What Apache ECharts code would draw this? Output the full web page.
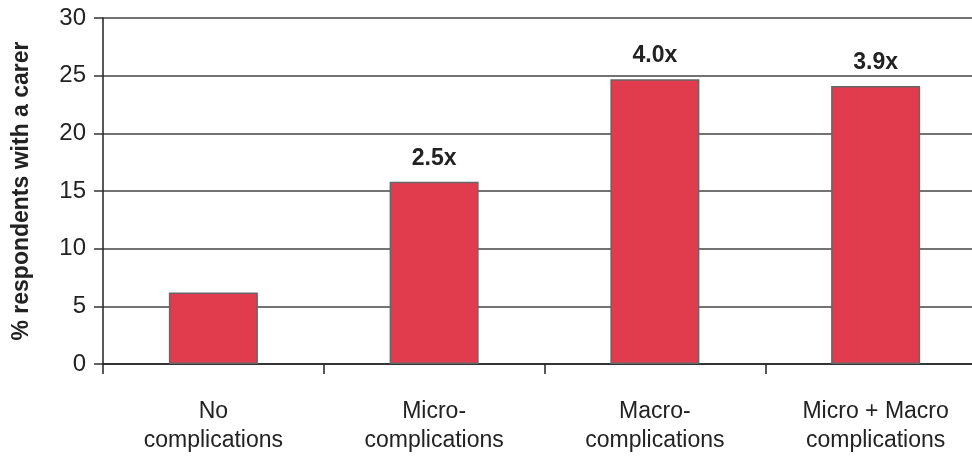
<!DOCTYPE html>
<html>
<head>
<meta charset="utf-8">
<script src="https://cdn.jsdelivr.net/npm/echarts@6/dist/echarts.min.js"></script>
<style>
  html, body { margin: 0; padding: 0; background: #fff; overflow: hidden; }
  #chart { width: 1000px; height: 457px; }
</style>
</head>
<body>
<div id="chart"></div>
<script>
// Share of respondents with a carer, by complication group
const categories = ['No\ncomplications', 'Micro-\ncomplications', 'Macro-\ncomplications', 'Micro + Macro\ncomplications'];
const carerPct = [6.2, 15.8, 24.7, 24.1];
const ratioLabels = ['', '2.5x', '4.0x', '3.9x'];
const yTicks = [0, 5, 10, 15, 20, 25, 30];

const chart = echarts.init(document.getElementById('chart'));
const font = 'Liberation Sans, Arial, sans-serif';

// the plot area runs past the right edge of the window, so the last category is cut off
chart.setOption({
  animation: false,
  grid: { left: 103, top: 18, right: 14, bottom: 93, containLabel: false, outerBoundsMode: 'none' },
  xAxis: {
    type: 'category',
    data: categories,
    boundaryGap: true,
    axisLine: { lineStyle: { color: '#222', width: 1.5 } },
    axisTick: { show: true, length: 10, lineStyle: { color: '#222', width: 1.5 } },
    axisLabel: { color: '#222', fontFamily: font, fontSize: 23, lineHeight: 29, margin: 33, interval: 0 }
  },
  yAxis: {
    type: 'value',
    min: yTicks[0],
    max: yTicks[yTicks.length - 1],
    interval: 5,
    name: '% respondents with a carer',
    nameLocation: 'middle',
    nameGap: 70,
    nameTextStyle: { color: '#222', fontFamily: font, fontSize: 23, fontWeight: 'bold' },
    axisLine: { show: true, lineStyle: { color: '#222', width: 1.5 } },
    axisTick: { show: true, length: 9, lineStyle: { color: '#333', width: 1.5 } },
    axisLabel: { color: '#222', fontFamily: font, fontSize: 24, margin: 17 },
    splitLine: { show: true, lineStyle: { color: '#444', width: 1.5 } }
  },
  series: [{
    type: 'bar',
    data: carerPct,
    barWidth: 89,
    itemStyle: { color: '#E03C4E', borderColor: '#666', borderWidth: 1.5 },
    label: {
      show: true,
      position: 'top',
      distance: 12,
      color: '#222',
      fontFamily: font,
      fontSize: 23,
      fontWeight: 'bold',
      formatter: p => ratioLabels[p.dataIndex]
    }
  }]
});
</script>
</body>
</html>
